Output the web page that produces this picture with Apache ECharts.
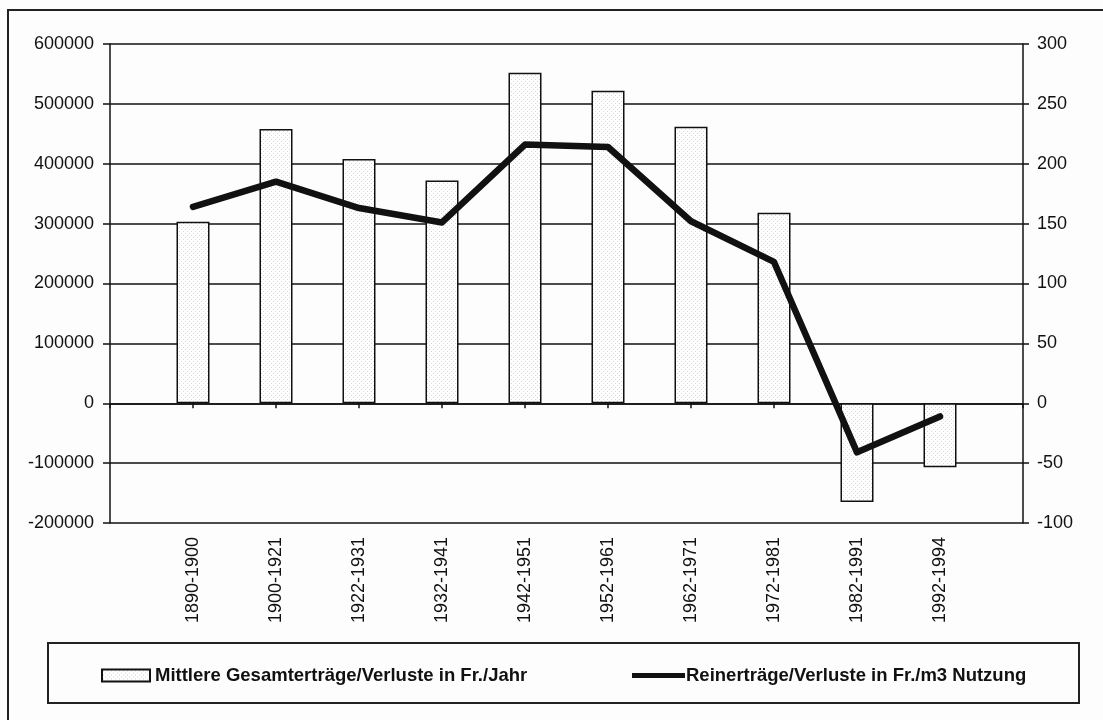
<!DOCTYPE html>
<html>
<head>
<meta charset="utf-8">
<script src="https://cdn.jsdelivr.net/npm/echarts@6/dist/echarts.min.js"></script>
<style>
  html, body { margin: 0; padding: 0; background: #fdfdfd; }
  #chart { width: 1103px; height: 720px; }
</style>
</head>
<body>
<div id="chart"></div>
<script>
// periods (blank slots at both ends keep the Excel-like spacing)
const periods = ["", "1890-1900", "1900-1921", "1922-1931", "1932-1941", "1942-1951",
  "1952-1961", "1962-1971", "1972-1981", "1982-1991", "1992-1994", ""];
const totalReturns = [null, 303000, 458000, 408000, 372000, 552000,
  522000, 462000, 318000, -165000, -107000, null];
const netPerM3 = [null, 164, 185, 163, 151, 216, 214, 152, 118, -41, -11, null];
const leftTicks = { min: -200000, max: 600000, interval: 100000 };
const rightTicks = { min: -100, max: 300, interval: 50 };

const barName = "Mittlere Gesamterträge/Verluste in Fr./Jahr";
const lineName = "Reinerträge/Verluste in Fr./m3 Nutzung";

// light dotted fill like the print
function dotPattern() {
  const c = document.createElement("canvas");
  c.width = 4;
  c.height = 4;
  const ctx = c.getContext("2d");
  ctx.fillStyle = "#ffffff";
  ctx.fillRect(0, 0, 4, 4);
  ctx.fillStyle = "#d6d6d6";
  ctx.fillRect(1, 1, 1, 1);
  ctx.fillRect(3, 3, 1, 1);
  return c;
}

const font = "'Liberation Sans', Arial, sans-serif";
const chart = echarts.init(document.getElementById("chart"));

chart.setOption({
  backgroundColor: "#fdfdfd",
  animation: false,
  grid: { left: 110, right: 80, top: 44, bottom: 197, containLabel: false },
  legend: [
    {
      data: [barName],
      left: 96,
      top: 661,
      icon: "rect",
      itemWidth: 48,
      itemHeight: 12,
      textStyle: { fontFamily: font, fontSize: 18.5, fontWeight: "bold", color: "#111" },
    },
    {
      data: [lineName],
      left: 627,
      top: 661,
      icon: "rect",
      itemWidth: 53,
      itemHeight: 5,
      textStyle: { fontFamily: font, fontSize: 18.5, fontWeight: "bold", color: "#111", padding: [0, 0, 0, -4] },
    },
  ],
  graphic: [
    {
      type: "rect",
      shape: { x: 8, y: 10, width: 1200, height: 800 },
      style: { fill: "none", stroke: "#222", lineWidth: 2 },
      silent: true,
    },
    {
      type: "rect",
      shape: { x: 48, y: 643, width: 1031, height: 60 },
      style: { fill: "none", stroke: "#222", lineWidth: 2 },
      silent: true,
    },
  ],
  xAxis: [
    {
      type: "category",
      data: periods,
      position: "bottom",
      boundaryGap: false,
      axisLine: { show: false, onZero: false },
      axisTick: { show: false },
      axisLabel: {
        interval: 0,
        rotate: 90,
        margin: 14,
        fontFamily: font,
        fontSize: 18,
        color: "#111",
      },
    },
    {
      type: "category",
      data: periods,
      position: "top",
      boundaryGap: false,
      axisLine: { show: true, onZero: true, onZeroAxisIndex: 0, lineStyle: { color: "#111", width: 1.5 } },
      axisTick: { show: true, inside: true, length: 5, interval: 0, lineStyle: { color: "#111", width: 1.5 } },
      axisLabel: { show: false },
    },
  ],
  yAxis: [
    {
      type: "value",
      position: "left",
      min: leftTicks.min,
      max: leftTicks.max,
      interval: leftTicks.interval,
      axisLine: { show: true, lineStyle: { color: "#111", width: 1.5 } },
      axisTick: { show: true, length: 7, lineStyle: { color: "#111", width: 1.5 } },
      axisLabel: { margin: 16, fontFamily: font, fontSize: 18, color: "#111", formatter: (v) => String(v) },
      splitLine: { show: true, lineStyle: { color: "#111", width: 1.5 } },
    },
    {
      type: "value",
      position: "right",
      min: rightTicks.min,
      max: rightTicks.max,
      interval: rightTicks.interval,
      axisLine: { show: true, lineStyle: { color: "#111", width: 1.5 } },
      axisTick: { show: true, length: 6, lineStyle: { color: "#111", width: 1.5 } },
      axisLabel: { margin: 14, fontFamily: font, fontSize: 18, color: "#111", formatter: (v) => String(v) },
      splitLine: { show: false },
    },
  ],
  series: [
    {
      name: barName,
      type: "bar",
      xAxisIndex: 0,
      yAxisIndex: 0,
      barWidth: 33,
      data: totalReturns,
      itemStyle: {
        color: { image: dotPattern(), repeat: "repeat" },
        borderColor: "#111",
        borderWidth: 1.5,
      },
      z: 2,
    },
    {
      name: lineName,
      type: "line",
      xAxisIndex: 0,
      yAxisIndex: 1,
      data: netPerM3,
      symbol: "none",
      connectNulls: false,
      lineStyle: { color: "#111", width: 6.5, cap: "round", join: "round" },
      itemStyle: { color: "#111" },
      z: 5,
    },
  ],
});
</script>
</body>
</html>
